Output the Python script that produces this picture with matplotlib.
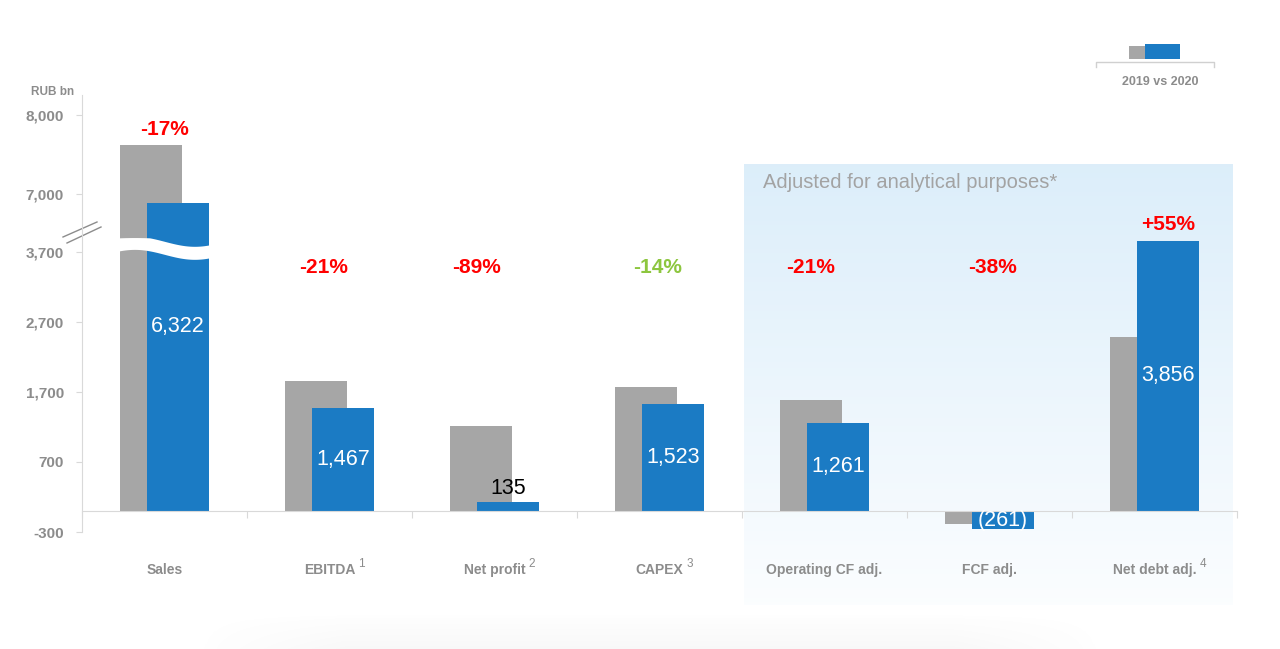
import numpy as np
import matplotlib
matplotlib.use('Agg')
import matplotlib.pyplot as plt
from matplotlib.patches import Rectangle
from matplotlib.transforms import blended_transform_factory

categories = ['Sales', 'EBITDA', 'Net profit', 'CAPEX',
              'Operating CF adj.', 'FCF adj.', 'Net debt adj.']
footnotes = ['', '1', '2', '3', '', '', '4']
values_2019 = [7617, 1857, 1210, 1771, 1580, -189, 2488]
values_2020 = [6322, 1467, 135, 1523, 1261, -261, 3856]
value_labels = ['6,322', '1,467', '135', '1,523', '1,261', '(261)', '3,856']
changes = ['-17%', '-21%', '-89%', '-14%', '-21%', '-38%', '+55%']
y_ticks = [-300, 700, 1700, 2700, 3700, 7000, 8000]

GRAY = '#a6a6a6'
BLUE = '#1b7bc4'
TXT = '#8c8c8c'
RED = '#ff0000'
GREEN = '#8dc63f'
NARROW = ['Liberation Sans Narrow', 'Liberation Sans', 'DejaVu Sans']
plt.rcParams['font.family'] = ['Liberation Sans', 'DejaVu Sans']

# broken axis: linear low part, squeezed gap, linear top part
kv = np.array([-1e5, -300, 3900, 7000, 1e5])
kp = np.array([-300 - 99700 * 0.07, 0, 294, 338, 338 + 93000 * 0.079])


def forward(v):
    return np.interp(v, kv, kp)


def inverse(p):
    return np.interp(p, kp, kv)


fig = plt.figure(figsize=(12.8, 6.49), dpi=100)

# background layer in pixel coords
bg = fig.add_axes([0, 0, 1, 1], zorder=0)
bg.set_xlim(0, 1280)
bg.set_ylim(649, 0)
bg.axis('off')
g = np.linspace(0, 1, 256)[:, None, None]
top_c = np.array([0.863, 0.933, 0.980])
bot_c = np.array([0.985, 0.993, 1.0])
bg.imshow(top_c * (1 - g) + bot_c * g, extent=[744, 1233, 605, 164], aspect='auto')
sh = np.zeros((40, 200, 4))
sh[..., :3] = 0.5
edge = np.minimum(1, np.minimum(np.linspace(0, 1, 200), np.linspace(1, 0, 200)) * 6)
sh[..., 3] = np.linspace(0, 0.05, 40)[:, None] * edge[None, :]
bg.imshow(sh, extent=[190, 1110, 649, 612], aspect='auto')
bg.text(763, 183, 'Adjusted for analytical purposes*', fontsize=14.5,
        color='#a3a3a3', va='center', ha='left')
bg.text(53, 92, 'RUB bn', fontsize=8.5, color=TXT, fontweight='bold',
        family=NARROW, va='center', ha='center')
# legend
bg.add_patch(Rectangle((1129, 46), 16, 13, color=GRAY, lw=0))
bg.add_patch(Rectangle((1145, 44), 35, 15, color=BLUE, lw=0))
bg.plot([1096, 1096, 1214, 1214], [67, 62, 62, 67], color='#d0d0d0', lw=1)
bg.text(1160, 82, '2019 vs 2020', fontsize=9, color=TXT, fontweight='bold',
        family=NARROW, va='center', ha='center')
# break marks
bg.plot([63, 97], [237, 222], color='#8c8c8c', lw=1)
bg.plot([67, 101], [243, 227], color='#8c8c8c', lw=1)

ax = fig.add_axes([82 / 1280, (649 - 532) / 649, (1237 - 82) / 1280, (532 - 95) / 649],
                  zorder=1)
ax.set_facecolor('none')
ax.set_yscale('function', functions=(forward, inverse))
ax.set_xlim(-0.5, 6.5)
ax.set_ylim(-300, 8250)

x = np.arange(len(categories))
w = 0.376
off = 0.082
ax.bar(x - off, values_2019, width=w, color=GRAY, zorder=2)
ax.bar(x + off, values_2020, width=w, color=BLUE, zorder=2)

# wave cut across the sales bars
xs = np.linspace(-0.32, 0.32, 200)
mid = 3757 - 71 * np.sin(2 * np.pi * 1.375 * xs)
ax.fill_between(xs, mid - 93, mid + 93, color='white', lw=0, zorder=3)

for sp in ['top', 'right']:
    ax.spines[sp].set_visible(False)
ax.spines['left'].set_color('#d9d9d9')
ax.spines['bottom'].set_color('#d9d9d9')
ax.spines['bottom'].set_position(('data', 0))
ax.set_yticks(y_ticks)
ax.yaxis.set_minor_locator(matplotlib.ticker.NullLocator())
ax.set_yticklabels([f'{t:,}' for t in y_ticks], fontsize=11, color=TXT,
                   fontweight='bold', family=NARROW)
ax.tick_params(axis='y', length=4, color='#d9d9d9', pad=9)
ax.set_xticks(np.arange(-0.5, 7, 1))
ax.set_xticklabels([])
ax.tick_params(axis='x', length=5, color='#d9d9d9', direction='out')

trans = blended_transform_factory(ax.transData, ax.transAxes)
fig.canvas.draw()
renderer = fig.canvas.get_renderer()
for i, (name, fn) in enumerate(zip(categories, footnotes)):
    t = ax.text(i, -0.087, name, transform=trans, ha='center', va='center',
                fontsize=10, color=TXT, fontweight='bold', family=NARROW)
    if fn:
        bb = t.get_window_extent(renderer=renderer)
        xr = ax.transData.inverted().transform((bb.x1, 0))[0]
        ax.text(xr + 0.02, -0.073, fn, transform=trans, ha='left', va='center',
                fontsize=8.5, color=TXT, family=NARROW)

# value labels
for i, (v, lab) in enumerate(zip(values_2020, value_labels)):
    if 0 < v < 300:
        ax.annotate(lab, (i + off, v), xytext=(0, 2), textcoords='offset points',
                    ha='center', va='bottom', fontsize=15.5, color='black', zorder=4)
    else:
        y = 2630 if i == 0 else v / 2
        ax.text(i + off, y, lab, ha='center', va='center', fontsize=15.5,
                color='white', zorder=4)

# change labels
pct_dx = [0, -6, -18, -2, -14, 3, 0]
for i, ch in enumerate(changes):
    col = GREEN if categories[i] == 'CAPEX' else RED
    top = max(values_2019[i], values_2020[i])
    if top > 3471:
        xi = i if i == 0 else i + off
        ax.annotate(ch, (xi, top), xytext=(0, 11.5), textcoords='offset points',
                    ha='center', va='center', fontsize=15, fontweight='bold',
                    color=col, zorder=4)
    else:
        ax.text(i + pct_dx[i] / 165, 3471, ch, ha='center', va='center',
                fontsize=15, fontweight='bold', color=col, zorder=4)

fig.savefig('out.png', dpi=100)
